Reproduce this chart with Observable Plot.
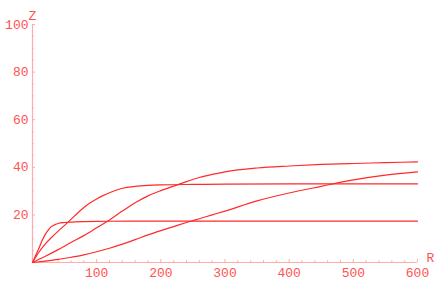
<!DOCTYPE html>
<html><head><meta charset="utf-8">
<script src="https://cdn.jsdelivr.net/npm/d3@7"></script>
<script src="https://cdn.jsdelivr.net/npm/@observablehq/plot@0.6"></script>
<style>body{margin:0;background:#fff}</style>
</head><body><div id="chart"></div>
<script>
// Curve A (fast saturation ~17.35)
const rA = [0,5,10,15,20,25,30,35,40,50,60,80,100,150,200,300,400,500,600];
const zA = [0,3.0,6.0,9.2,11.8,13.8,15.2,15.9,16.4,16.8,17.0,17.2,17.3,17.35,17.35,17.35,17.35,17.35,17.35];
// Curve B (saturation ~33)
const rB = [0,10,20,30,40,50,60,70,80,90,100,110,120,140,160,180,200,250,300,400,500,600];
const zB = [0,4.3,7.8,10.6,13.2,15.6,18.1,20.7,23.1,25.1,26.7,28.1,29.3,31.2,32.0,32.4,32.6,32.8,32.9,33.0,33.0,33.0];
// Curve C (saturation ~42)
const rC = [0,20,40,60,80,100,120,140,160,180,200,220,240,260,280,300,350,400,450,500,550,600];
const zC = [0,2.6,5.4,8.4,11.3,14.6,17.9,21.6,25.1,28.0,30.2,32.1,34.0,35.7,37.0,38.1,39.7,40.55,41.2,41.6,41.95,42.3];
// Curve D (slow rise)
const rD = [0,20,40,60,80,100,120,140,160,180,200,220,240,260,280,300,350,400,450,500,550,600];
const zD = [0,0.6,1.3,2.2,3.2,4.5,6.0,7.7,9.6,11.6,13.4,15.1,16.8,18.4,20.0,21.6,25.9,29.2,32.0,34.7,36.7,38.1];

const xTicks = [100,200,300,400,500,600];
const xMinorTicks = [20,40,60,80,120,140,160,180,220,240,260,280,320,340,360,380,420,440,460,480,520,540,560,580];
const yTicks = [20,40,60,80,100];
const yMinorTicks = [5,10,15,25,30,35,45,50,55,65,70,75,85,90,95];
const xName = "R", yName = "Z";

const series = [["A", rA, zA], ["B", rB, zB], ["C", rC, zC], ["D", rD, zD]];
const rows = series.flatMap(([s, r, z]) => r.map((v, i) => ({series: s, R: v, Z: z[i]})));

const W = 436, H = 282, mL = 32, mR = 19, mT = 24, mB = 20;
const plotW = W - mL - mR, plotH = H - mT - mB;
const axisColor = "#ffacac", textColor = "#ff5252", curveColor = "#ff2a2a";
const font = "'Liberation Mono', 'DejaVu Sans Mono', monospace";

const chart = Plot.plot({
  width: W, height: H,
  marginLeft: mL, marginRight: mR, marginTop: mT, marginBottom: mB,
  x: {domain: [0, 600]},
  y: {domain: [0, 100]},
  style: {fontFamily: font, fontSize: "13px", background: "white", color: textColor},
  marks: [
    Plot.ruleY([0], {stroke: axisColor, strokeWidth: 1.2}),
    Plot.ruleX([0], {stroke: axisColor, strokeWidth: 1.2}),
    Plot.tickX(xTicks, {x: d => d, stroke: axisColor, insetTop: plotH - 3}),
    Plot.tickX(xMinorTicks, {x: d => d, stroke: axisColor, insetTop: plotH - 1.8}),
    Plot.tickY(yTicks, {y: d => d, stroke: axisColor, insetRight: plotW - 3}),
    Plot.tickY(yMinorTicks, {y: d => d, stroke: axisColor, insetRight: plotW - 1.8}),
    Plot.axisX(xTicks, {tickSize: 0, tickPadding: 5, fill: textColor, label: null}),
    Plot.axisY(yTicks, {tickSize: 0, tickPadding: 4, fill: textColor, label: null}),
    Plot.line(rows, {x: "R", y: "Z", z: "series", stroke: curveColor, strokeWidth: 1.2, curve: "monotone-x"}),
    Plot.text([yName], {text: d => d, frameAnchor: "top-left", dy: -14, textAnchor: "middle", fill: textColor}),
    Plot.text([xName], {text: d => d, frameAnchor: "bottom-right", dx: 13, dy: -1, textAnchor: "middle", fill: textColor})
  ]
});
document.getElementById("chart").appendChild(chart);
</script>
</body></html>
